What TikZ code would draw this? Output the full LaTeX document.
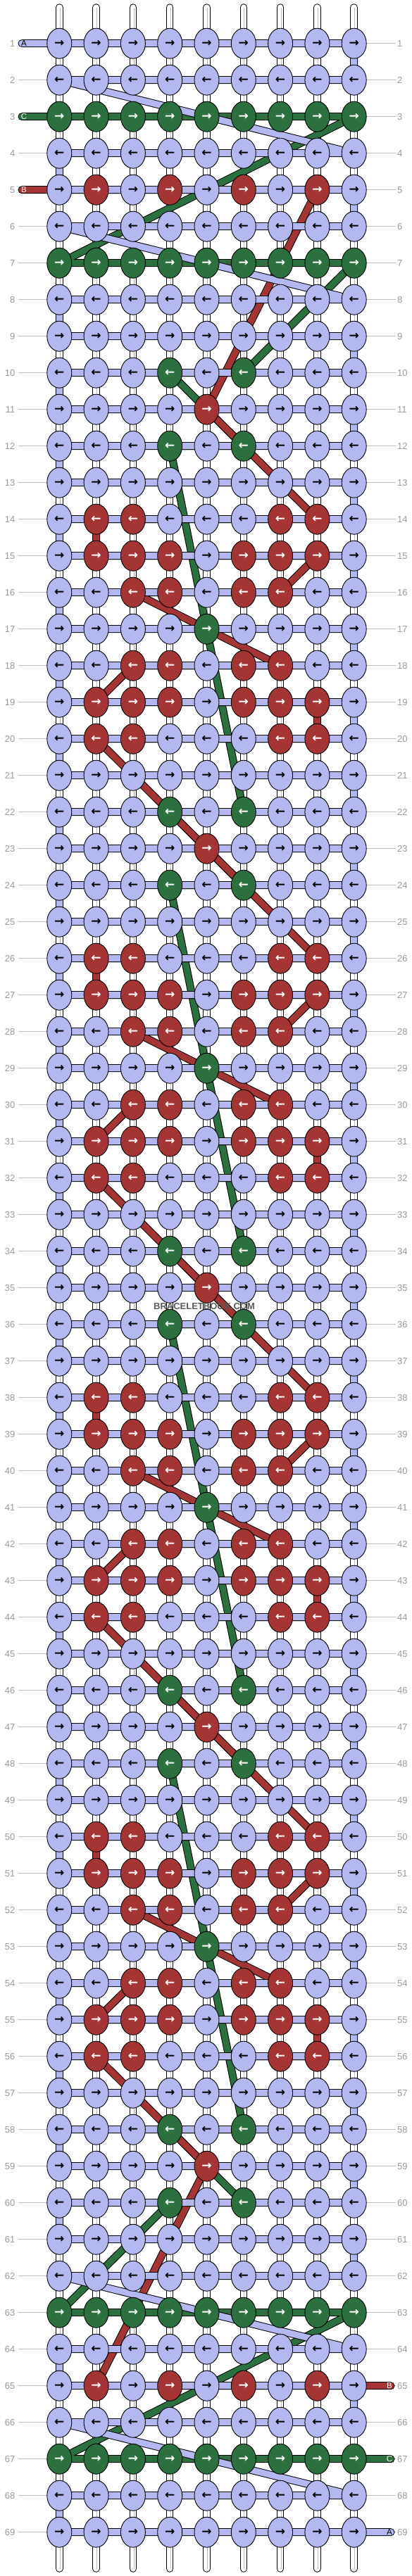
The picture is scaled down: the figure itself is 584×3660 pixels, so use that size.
\documentclass[tikz,border=0pt]{standalone}
\usepackage{fontspec}
\setmainfont{Liberation Sans}
\newfontfamily\arrowfont{DejaVu Sans}
\usepackage{xstring}
\usetikzlibrary{shapes.geometric}
\definecolor{lav}{HTML}{B3B8F0}
\definecolor{rd}{HTML}{A53435}
\definecolor{grn}{HTML}{2D703F}
\definecolor{lblgray}{HTML}{999999}
\definecolor{linegray}{HTML}{BBBBBB}
\pgfdeclarelayer{strings}
\pgfdeclarelayer{threads}
\pgfsetlayers{strings,threads,main}
\def\qpat#1{\ifcase#1 aaagagaaa\or aaaaraaaa\or aaagagaaa\or aaaaaaaaa\or arraaarra\or arrrarrra\or aarrarraa\or aaaagaaaa\or aarrarraa\or arrrarrra\or arraaarra\or aaaaaaaaa\fi}
\def\tpat#1{\ifcase#1 \or aaaaaaaaa\or aaaaaaaaa\or ggggggggg\or aaaaaaaaa\or arararara\or aaaaaaaaa\or ggggggggg\or aaaaaaaaa\or aaaaaaaaa\fi}
\newcommand\setpat[1]{%
  \ifnum#1<10 \edef\pat{\tpat{#1}}%
  \else\ifnum#1>60 \pgfmathtruncatemacro\kk{#1-60}\edef\pat{\tpat{\kk}}%
  \else\pgfmathtruncatemacro\kk{mod(#1-10,12)}\edef\pat{\qpat{\kk}}\fi\fi}
\begin{document}
\begin{tikzpicture}[x=1pt,y=-1pt,
  knot/.style={ellipse, draw=black, line width=0.9pt, minimum width=35pt, minimum height=43pt, inner sep=0pt, font=\arrowfont\bfseries\fontsize{17}{17}\selectfont},
  knota/.style={knot, fill=lav, text=black},
  knotr/.style={knot, fill=rd, text=white},
  knotg/.style={knot, fill=grn, text=white},
  thread/.style={line width=1pt, draw=black, double distance=9pt, line join=round, line cap=round},
  rowlab/.style={text=lblgray, font=\fontsize{13}{13}\selectfont, inner sep=0pt},
  rowline/.style={linegray, line width=1pt},
  pilltext/.style={font=\fontsize{11.5}{11.5}\selectfont, inner sep=0pt},
  strout/.style={black, line width=10.5pt, line cap=round},
  strin/.style={white, line width=8.5pt, line cap=round},
  strmid/.style={linegray, line width=0.8pt}]
\useasboundingbox (0,0) rectangle (584,3660);
% vertical strings
\foreach \c in {1,...,9}{
  \pgfmathsetmacro\xx{84.3+(\c-1)*52.3}
  \coordinate (st-\c) at (\xx,10.5);
  \coordinate (sb-\c) at (\xx,3649.5);
  \begin{pgfonlayer}{strings}
    \draw[strout] (st-\c) -- (sb-\c);
    \draw[strin] (st-\c) -- (sb-\c);
    \draw[strmid] ([xshift=1pt]st-\c) -- ([xshift=1pt]sb-\c);
  \end{pgfonlayer}
}
% knots and row labels
\foreach \r in {1,...,69}{
  \setpat{\r}
  \pgfmathsetmacro\yy{61.7+(\r-1)*52}
  \ifodd\r \def\arr{→}\else\def\arr{←}\fi
  \foreach \c in {1,...,9}{
    \StrChar{\pat}{\c}[\ch]
    \pgfmathsetmacro\xx{84.3+(\c-1)*52.3}
    \if a\ch \tikzset{kcur/.style={knota}}\fi
    \if r\ch \tikzset{kcur/.style={knotr}}\fi
    \if g\ch \tikzset{kcur/.style={knotg}}\fi
    \node[kcur] (k-\r-\c) at (\xx,\yy) {\arr};
  }
  \node[rowlab, anchor=east] (ll-\r) at (21.5,\yy) {\r};
  \node[rowlab, anchor=west] (rl-\r) at (564,\yy) {\r};
  \coordinate (rowL-\r) at (26,\yy);
  \coordinate (rowR-\r) at (562,\yy);
  \begin{pgfonlayer}{strings}
    \draw[rowline] (rowL-\r) -- (k-\r-1.west);
    \draw[rowline] (k-\r-9.east) -- (rowR-\r);
  \end{pgfonlayer}
}
% thread ends
\coordinate (sA) at (31,61.7);
\coordinate (sG) at (31,165.7);
\coordinate (sR) at (31,269.7);
\coordinate (eR) at (555,3389.7);
\coordinate (eG) at (555,3493.7);
\coordinate (eA) at (555,3597.7);
\gdef\pathA{(sA)}\gdef\pathR{(sR)}\gdef\pathG{(sG)}
\foreach \r in {1,...,69}{
  \setpat{\r}
  \foreach \i in {1,...,9}{
    \ifodd\r \edef\c{\i}\else\pgfmathtruncatemacro\c{10-\i}\fi
    \StrChar{\pat}{\c}[\ch]
    \if a\ch \xdef\pathA{\pathA -- (k-\r-\c.center)}\fi
    \if r\ch \xdef\pathR{\pathR -- (k-\r-\c.center)}\fi
    \if g\ch \xdef\pathG{\pathG -- (k-\r-\c.center)}\fi
  }
}
\xdef\pathA{\pathA -- (eA)}
\xdef\pathR{\pathR -- (eR)}
\xdef\pathG{\pathG -- (eG)}
\begin{pgfonlayer}{threads}
  \edef\tmp{\noexpand\draw[thread, double=grn] \pathG;}\tmp
  \edef\tmp{\noexpand\draw[thread, double=rd] \pathR;}\tmp
  \edef\tmp{\noexpand\draw[thread, double=lav] \pathA;}\tmp
\end{pgfonlayer}
% thread labels
\node[pilltext, text=black] (labA1) at (34,61.7) {A};
\node[pilltext, text=white] (labC1) at (34,165.7) {C};
\node[pilltext, text=white] (labB1) at (34,269.7) {B};
\node[pilltext, text=white] (labB2) at (553,3389.7) {B};
\node[pilltext, text=white] (labC2) at (553,3493.7) {C};
\node[pilltext, text=black] (labA2) at (553,3597.7) {A};
% watermark
\node[font=\bfseries\fontsize{13}{13}\selectfont, text=black!65] (wm) at (290,1856) {BRACELETBOOK.COM};
\end{tikzpicture}
\end{document}
